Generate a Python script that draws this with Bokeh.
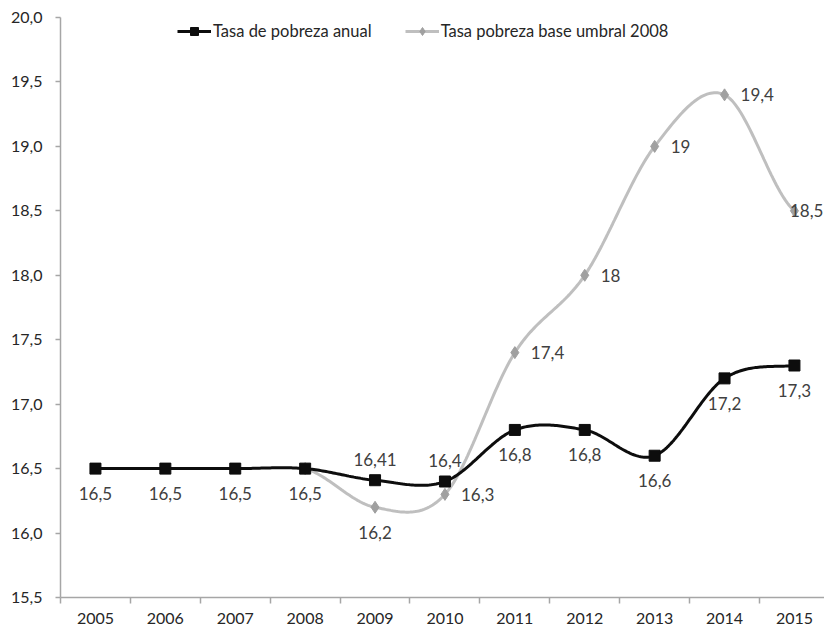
from bokeh.plotting import figure
from bokeh.models import (ColumnDataSource, FixedTicker, CustomJSTickFormatter,
                          Range1d, Legend, LegendItem, LabelSet)
from bokeh.core.properties import value
from bokeh.embed import file_html
from bokeh.resources import INLINE
import numpy as np

# Data
years = [2005, 2006, 2007, 2008, 2009, 2010, 2011, 2012, 2013, 2014, 2015]
tasa_anual = [16.5, 16.5, 16.5, 16.5, 16.41, 16.4, 16.8, 16.8, 16.6, 17.2, 17.3]
anual_labels = ["16,5", "16,5", "16,5", "16,5", "16,41", "16,4", "16,8", "16,8", "16,6", "17,2", "17,3"]

years_base = [2008, 2009, 2010, 2011, 2012, 2013, 2014, 2015]
tasa_base_2008 = [16.5, 16.2, 16.3, 17.4, 18.0, 19.0, 19.4, 18.5]
base_labels = ["", "16,2", "16,3", "17,4", "18", "19", "19,4", "18,5"]

y_ticks = [15.5, 16.0, 16.5, 17.0, 17.5, 18.0, 18.5, 19.0, 19.5, 20.0]

# Label placement per point
anual_place = ["below"] * 4 + ["above"] * 2 + ["below"] * 5
base_place = ["none", "below", "right", "right", "right", "right", "right", "edge"]

FONT = "Lato"
TXT = "#404040"
BLACK = "#0d0d0d"
GRAY_LINE = "#bfbfbf"
GRAY_MARK = "#a0a0a0"


def smooth(xs, ys, n=40):
    """Catmull-Rom spline through the points (smoothed line)."""
    xs = np.asarray(xs, float)
    ys = np.asarray(ys, float)
    px = np.concatenate([[xs[0]], xs, [xs[-1]]])
    py = np.concatenate([[ys[0]], ys, [ys[-1]]])
    out_x, out_y = [], []
    for i in range(1, len(px) - 2):
        p0, p1, p2, p3 = py[i - 1], py[i], py[i + 1], py[i + 2]
        x1, x2 = px[i], px[i + 1]
        c1 = p1 + (p2 - p0) / 6.0
        c2 = p2 - (p3 - p1) / 6.0
        t = np.linspace(0, 1, n, endpoint=(i == len(px) - 3))
        yy = (1 - t) ** 3 * p1 + 3 * (1 - t) ** 2 * t * c1 + 3 * (1 - t) * t ** 2 * c2 + t ** 3 * p2
        xx = x1 + (x2 - x1) * t
        out_x.extend(xx)
        out_y.extend(yy)
    return out_x, out_y


p = figure(width=824, height=628, output_backend="svg", toolbar_location=None,
           x_range=Range1d(2004.5, 2015.43), y_range=Range1d(15.5, 20.0),
           min_border_left=60, min_border_right=0, min_border_top=17,
           min_border_bottom=31)
p.outline_line_color = None
p.xgrid.visible = False
p.ygrid.visible = False
p.background_fill_color = "white"
p.border_fill_color = "white"

# Axes
p.xaxis.ticker = FixedTicker(ticks=years, minor_ticks=[y - 0.5 for y in years] + [2015.5])
p.xaxis.major_tick_out = 0
p.xaxis.major_tick_in = 0
p.xaxis.minor_tick_out = 6
p.xaxis.minor_tick_in = 0
p.yaxis.ticker = FixedTicker(ticks=y_ticks)
p.yaxis.formatter = CustomJSTickFormatter(code="return tick.toFixed(1).replace('.', ',');")
p.yaxis.major_tick_out = 5
p.yaxis.major_tick_in = 0
p.yaxis.minor_tick_out = 0
p.yaxis.minor_tick_in = 0
for ax in (p.xaxis, p.yaxis):
    ax.axis_line_color = "#a6a6a6"
    ax.axis_line_width = 1.5
    ax.major_tick_line_color = "#a6a6a6"
    ax.minor_tick_line_color = "#a6a6a6"
    ax.major_tick_line_width = 1.5
    ax.minor_tick_line_width = 1.5
    ax.major_label_text_font = FONT
    ax.major_label_text_font_size = "16px"
    ax.major_label_text_color = "#262626"
p.xaxis.major_label_standoff = 9
p.yaxis.major_label_standoff = 13

# Lines
bx, by = smooth(years_base, tasa_base_2008)
ax_, ay = smooth(years, tasa_anual)
r_base_line = p.line(bx, by, line_color=GRAY_LINE, line_width=3)
r_anual_line = p.line(ax_, ay, line_color=BLACK, line_width=3)

src_base = ColumnDataSource(dict(x=years_base, y=tasa_base_2008))
src_anual = ColumnDataSource(dict(x=years, y=tasa_anual))

r_base_mark = p.scatter("x", "y", source=src_base, marker="diamond", size=12,
                        fill_color=GRAY_MARK, line_color=GRAY_MARK)
r_anual_mark = p.scatter("x", "y", source=src_anual, marker="square", size=11,
                         fill_color=BLACK, line_color=BLACK)


def add_labels(xs, ys, labs, places):
    groups = {
        "below": dict(x_offset=0, y_offset=-25, text_align="center"),
        "above": dict(x_offset=0, y_offset=21, text_align="center"),
        "right": dict(x_offset=16, y_offset=0, text_align="left"),
        "edge": dict(x_offset=29, y_offset=0, text_align="right"),
    }
    for key, opts in groups.items():
        idx = [i for i, pl in enumerate(places) if pl == key]
        if not idx:
            continue
        s = ColumnDataSource(dict(x=[xs[i] for i in idx], y=[ys[i] for i in idx],
                                  lab=[labs[i] for i in idx]))
        p.add_layout(LabelSet(x="x", y="y", text="lab", source=s,
                              text_font=value(FONT), text_font_size=value("17px"),
                              text_color=TXT, text_baseline="middle", **opts))


add_labels(years, tasa_anual, anual_labels, anual_place)
add_labels(years_base, tasa_base_2008, base_labels, base_place)

legend = Legend(items=[
    LegendItem(label="Tasa de pobreza anual", renderers=[r_anual_line, r_anual_mark]),
    LegendItem(label="Tasa pobreza base umbral 2008", renderers=[r_base_line, r_base_mark]),
], orientation="horizontal", location=(117, 556))
legend.label_text_font = FONT
legend.label_text_font_size = "16.5px"
legend.label_text_color = "#262626"
legend.glyph_width = 34
legend.glyph_height = 20
legend.label_standoff = 2
legend.spacing = 33
legend.padding = 0
legend.margin = 0
legend.border_line_color = None
legend.background_fill_alpha = 0
p.add_layout(legend)

open("out.html", "w").write(file_html(p, INLINE))
